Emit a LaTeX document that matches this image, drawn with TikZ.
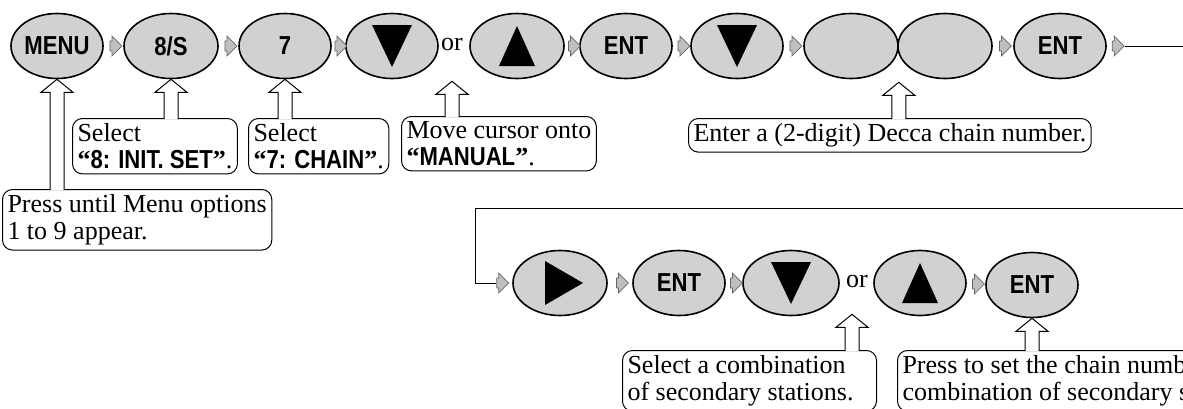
\documentclass[tikz,border=0pt]{standalone}
\usepackage{fontspec}
\setmainfont{Liberation Serif}
\newfontfamily\keyfont{Liberation Sans}[FakeStretch=0.85]
\usetikzlibrary{calc, positioning, shapes.geometric, shapes.arrows}

\tikzset{
  key/.style={ellipse, draw, line width=0.8pt, fill=black!18, minimum width=46pt, minimum height=32.5pt,
    inner sep=0pt, font=\keyfont\bfseries\fontsize{13}{13}\selectfont},
  flow/.style={single arrow, draw=black!60, fill=black!25, line width=0.35pt, minimum height=6pt,
    inner xsep=0pt, inner ysep=2.3pt, single arrow head extend=2.5pt},
  note/.style={draw, line width=0.5pt, rounded corners=5pt, align=flush left, inner sep=2.5pt, anchor=north west},
  callout/.style={draw, fill=white, line width=0.5pt},
}
% hollow arrow from the top of a note up to a point
\newcommand{\callarrow}[2]{%
  \draw[callout] let \p1=#1, \p2=(#2.north) in
    (\x1-3.5pt,\y2-0.6pt) -- (\x1-3.5pt,\y1-6.5pt) -- (\x1-8pt,\y1-6.5pt) -- (\p1)
    -- (\x1+8pt,\y1-6.5pt) -- (\x1+3.5pt,\y1-6.5pt) -- (\x1+3.5pt,\y2-0.6pt);
}
\newcommand{\kq}[1]{\textbf{“}{\keyfont\bfseries #1}\textbf{”}}

\begin{document}
\begin{tikzpicture}[x=0.5pt, y=-0.5pt, font=\fontsize{13}{13.5}\selectfont]
  \useasboundingbox (0,0) rectangle (1183,408);
  \clip (0,0) rectangle (1183,408);

  % first row of keys
  \node[key] (menu) at (57,46) {MENU};
  \node[key, minimum width=47pt] (isS) at (171,46) {8/S};
  \node[key] (seven) at (285,46) {7};
  \node[key] (dnA) at (392,46) {};
  \node (orA) at (452,44) {or};
  \node[key, minimum width=47pt] (upA) at (517,46) {};
  \node[key] (entA) at (626,46) {ENT};
  \node[key] (dnB) at (737,46) {};
  \node[key, minimum width=47pt] (blankA) at (851,46) {};
  \node[key, minimum width=47pt] (blankB) at (945,46) {};
  \node[key] (entB) at (1060,46) {ENT};

  \node[flow] (fa1) at ($(menu.east)!0.5!(isS.west)$) {};
  \node[flow] (fa2) at ($(isS.east)!0.5!(seven.west)$) {};
  \node[flow] (fa3) at ($(seven.east)!0.5!(dnA.west)$) {};
  \node[flow] (fa4) at ($(upA.east)!0.5!(entA.west)$) {};
  \node[flow] (fa5) at ($(entA.east)!0.5!(dnB.west)$) {};
  \node[flow] (fa6) at ($(dnB.east)!0.5!(blankA.west)$) {};
  \node[flow] (fa7) at ($(blankB.east)!0.5!(entB.west)$) {};
  \node[flow, right=2.5pt of entB] (fa8) {};

  % second row of keys
  \node[key, minimum width=47pt] (goR) at (560,283) {};
  \node[key] (entC) at (679,283) {ENT};
  \node[key, minimum width=48pt] (dnC) at (791,283) {};
  \node (orB) at (857,281) {or};
  \node[key] (upC) at (920,283) {};
  \node[key] (entD) at (1032,285) {ENT};

  \node[flow, left=1.5pt of goR] (fb1) {};
  \node[flow] (fb2) at ($(goR.east)!0.5!(entC.west)$) {};
  \node[flow] (fb3) at ($(entC.east)!0.5!(dnC.west)$) {};
  \node[flow] (fb4) at ($(upC.east)!0.5!(entD.west)$) {};

  % triangles on the keys
  \foreach \n in {dnA,dnB,dnC}
    \fill ($(\n)+(-20,-21)$) -- ($(\n)+(20,-21)$) -- ($(\n)+(0,21)$) -- cycle;
  \foreach \n in {upA,upC}
    \fill ($(\n)+(-18,20)$) -- ($(\n)+(18,20)$) -- ($(\n)+(0,-20)$) -- cycle;
  \fill ($(goR)+(-15,-22)$) -- ($(goR)+(-15,22)$) -- ($(goR)+(23,0)$) -- cycle;

  % line from the first row round to the second
  \coordinate (rt) at (1190,46);
  \coordinate (rb) at (1190,208);
  \coordinate (bend) at (475,208);
  \draw[line width=0.5pt] (fa8.east) -- (rt);
  \draw[line width=0.5pt] (rb) -- (bend) |- (fb1.west);

  % notes
  \node[note] (selA) at (72,118) {Select\\\kq{8: INIT. SET}.};
  \node[note] (selB) at (248,118) {Select\\\kq{7: CHAIN}.};
  \node[note] (moveN) at (401,116) {Move cursor onto\\\kq{MANUAL}.};
  \node[note] (enterN) at (688,118) {Enter a (2-digit) Decca chain number.};
  \node[note] (pressN) at (2,189) {Press until Menu options\\1 to 9 appear.};
  \node[note, text width=122pt] (combN) at (622,350) {Select a combination\\of secondary stations.};
  \node[note] (setN) at (897,350) {Press to set the chain number and\\combination of secondary stations.};

  % callout arrows
  \callarrow{(menu.south)}{pressN}
  \callarrow{(isS.south)}{selA}
  \callarrow{(seven.south)}{selB}
  \callarrow{($(orA |- menu.south)+(0,2)$)}{moveN}
  \callarrow{($(blankA.east |- blankA.south)+(0,3)$)}{enterN}
  \callarrow{($(orB |- dnC.south)+(-5,-2)$)}{combN}
  \callarrow{(entD.south)}{setN}
\end{tikzpicture}
\end{document}
